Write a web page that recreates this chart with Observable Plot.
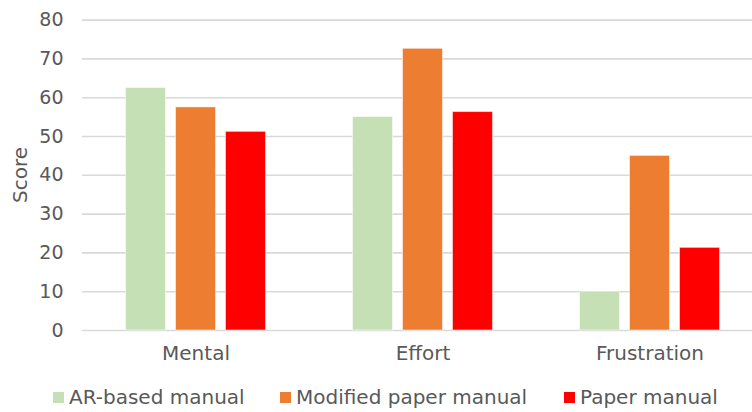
<!DOCTYPE html>
<html>
<head>
<meta charset="utf-8">
<script src="https://cdn.jsdelivr.net/npm/d3@7"></script>
<script src="https://cdn.jsdelivr.net/npm/@observablehq/plot@0.6"></script>
<style>
  html, body { margin: 0; padding: 0; background: #fff; }
  body { width: 752px; height: 412px; overflow: hidden; font-family: "DejaVu Sans", sans-serif; }
  #legend { position: relative; height: 40px; font-size: 20px; color: #595959; }
  .item { position: absolute; top: 13px; display: flex; align-items: center; white-space: nowrap; }
  .sw { width: 11px; height: 11px; margin-right: 5px; }
</style>
</head>
<body>
<div id="chart"></div>
<div id="legend"></div>
<script>
const categories = ["Mental", "Effort", "Frustration"];
const series = ["AR-based manual", "Modified paper manual", "Paper manual"];
const arValues = [62.5, 55, 10];
const modifiedValues = [57.5, 72.6, 45];
const paperValues = [51.2, 56.3, 21.3];
const yTicks = [0, 10, 20, 30, 40, 50, 60, 70, 80];
const colors = ["#C5E0B4", "#ED7D31", "#FF0000"];

const valuesBySeries = [arValues, modifiedValues, paperValues];
const data = [];
categories.forEach((c, i) => {
  series.forEach((s, j) => data.push({category: c, series: s, value: valuesBySeries[j][i]}));
});

const chart = Plot.plot({
  width: 752,
  height: 372,
  marginLeft: 81.5,
  marginRight: -10.5,
  marginTop: 19.6,
  marginBottom: 42,
  style: {fontFamily: "DejaVu Sans, sans-serif", fontSize: "18px", color: "#595959", background: "#fff"},
  fx: {domain: categories, padding: 0, label: null, axis: null},
  x: {domain: series, paddingInner: 0.2, paddingOuter: 0.87, axis: null},
  y: {domain: [0, 80], ticks: yTicks, label: null, axis: null},
  color: {domain: series, range: colors},
  marks: [
    Plot.ruleY(yTicks, {stroke: "#d9d9d9", strokeWidth: 1.6}),
    Plot.barY(data, {fx: "category", x: "series", y: "value", fill: "series", stroke: "#ffffff", strokeOpacity: 0.5, strokeWidth: 1, inset: 0}),
    Plot.axisY({ticks: yTicks, tickSize: 0, tickPadding: 19, fontSize: 19, fill: "#595959", label: null, facetAnchor: "left"}),
    Plot.axisFx({tickSize: 0, tickPadding: 15, fontSize: 20, fill: "#595959", label: null, anchor: "bottom"})
  ]
});
document.getElementById("chart").appendChild(chart);

// y-axis title
const svg = d3.select(chart);
svg.append("text")
  .attr("transform", "translate(27,175) rotate(-90)")
  .attr("text-anchor", "middle")
  .attr("fill", "#595959")
  .style("font-size", "20px")
  .style("font-family", "DejaVu Sans, sans-serif")
  .text("Score");

// legend
const legendX = [53, 280, 564];
const legend = d3.select("#legend");
series.forEach((s, i) => {
  const it = legend.append("div").attr("class", "item").style("left", legendX[i] + "px");
  it.append("div").attr("class", "sw").style("background", colors[i]);
  it.append("span").text(s);
});
</script>
</body>
</html>
